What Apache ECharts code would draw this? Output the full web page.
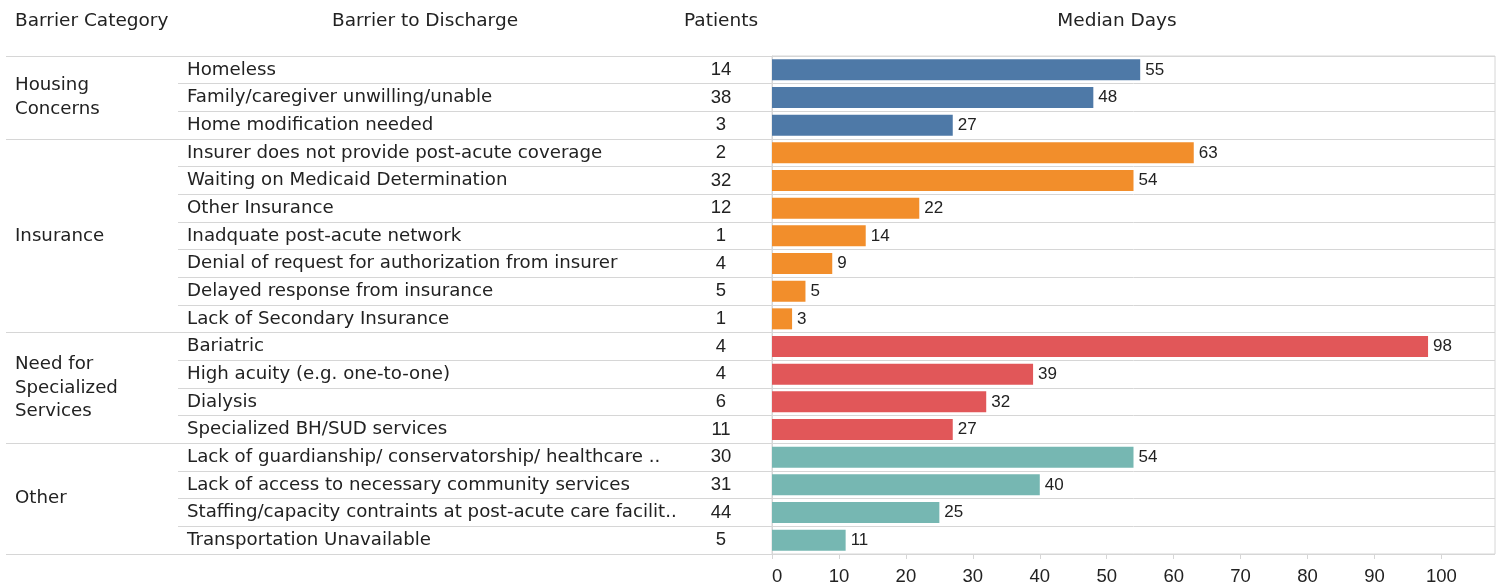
<!DOCTYPE html>
<html>
<head>
<meta charset="utf-8">
<script src="https://cdn.jsdelivr.net/npm/echarts@6/dist/echarts.min.js"></script>
<style>
  html, body { margin: 0; padding: 0; background: #fff; }
  #chart { width: 1499px; height: 586px; }
</style>
</head>
<body>
<div id="chart"></div>
<script>
// data
const groupNames = ["Housing Concerns", "Insurance", "Need for Specialized Services", "Other"];
const groupSizes = [3, 7, 4, 4];
const barriers = [
  "Homeless",
  "Family/caregiver unwilling/unable",
  "Home modification needed",
  "Insurer does not provide post-acute coverage",
  "Waiting on Medicaid Determination",
  "Other Insurance",
  "Inadquate post-acute network",
  "Denial of request for authorization from insurer",
  "Delayed response from insurance",
  "Lack of Secondary Insurance",
  "Bariatric",
  "High acuity (e.g. one-to-one)",
  "Dialysis",
  "Specialized BH/SUD services",
  "Lack of guardianship/ conservatorship/ healthcare ..",
  "Lack of access to necessary community services",
  "Staffing/capacity contraints at post-acute care facilit..",
  "Transportation Unavailable",
];
const patients = [14, 38, 3, 2, 32, 12, 1, 4, 5, 1, 4, 4, 6, 11, 30, 31, 44, 5];
const medianDays = [55, 48, 27, 63, 54, 22, 14, 9, 5, 3, 98, 39, 32, 27, 54, 40, 25, 11];
const dayTicks = [0, 10, 20, 30, 40, 50, 60, 70, 80, 90, 100];

// styles
const FONT = "DejaVu Sans";
const NUM_FONT = "Liberation Sans";
const TEXT = "#222";
const LINE = "#d6d6d6";
const groupColors = ["#4e79a7", "#f28e2b", "#e15759", "#76b7b2"];

// which group each row is in, and where the groups start / end
const rowGroup = [];
groupSizes.forEach((n, g) => { for (let i = 0; i < n; i++) rowGroup.push(g); });
const groupEdges = [0];
groupSizes.forEach((n) => groupEdges.push(groupEdges[groupEdges.length - 1] + n));
const groupMids = groupSizes.map((n, g) => groupEdges[g] + n / 2);

const TOP = 56;
const ROWS_H = 498;

const headerText = (text, x, align) => ({
  type: "text",
  x: x,
  y: 21,
  style: { text: text, fontFamily: FONT, fontSize: 18.5, fill: TEXT, align: align, verticalAlign: "middle" },
});

const option = {
  animation: false,
  textStyle: { fontFamily: FONT },
  graphic: [
    headerText("Barrier Category", 15, "left"),
    headerText("Barrier to Discharge", 425, "center"),
    headerText("Patients", 721, "center"),
    headerText("Median Days", 1117, "center"),
  ],
  grid: [
    { left: 6, right: 4, top: TOP, height: ROWS_H },        // group bands
    { left: 178, width: 594, top: TOP, height: ROWS_H },    // barrier names + patients
    { left: 772, right: 4, top: TOP, height: ROWS_H, show: true, borderColor: LINE, borderWidth: 1 }, // bars
  ],
  xAxis: [
    { gridIndex: 0, type: "value", min: 0, max: 1, show: false },
    { gridIndex: 1, type: "value", min: 0, max: 1, show: false },
    {
      gridIndex: 2,
      type: "value",
      min: 0,
      max: 108,
      axisLine: { show: false },
      splitLine: { show: false },
      axisTick: { show: true, customValues: dayTicks, length: 5, lineStyle: { color: LINE } },
      axisLabel: {
        customValues: dayTicks,
        alignMinLabel: "left",
        margin: 13,
        fontFamily: NUM_FONT,
        fontSize: 18.5,
        color: TEXT,
      },
    },
  ],
  yAxis: [
    {
      // barrier category column
      gridIndex: 0,
      type: "value",
      min: 0,
      max: barriers.length,
      inverse: true,
      axisLine: { show: false },
      axisTick: { show: false, customValues: groupEdges },
      splitLine: { show: true, lineStyle: { color: LINE, width: 1 } },
      axisLabel: {
        inside: true,
        margin: 9,
        align: "left",
        customValues: groupMids,
        formatter: (v) => groupNames[groupMids.indexOf(v)],
        width: 150,
        overflow: "break",
        lineHeight: 23.5,
        padding: [3, 0, 0, 0],
        fontSize: 18.2,
        color: TEXT,
      },
    },
    {
      // barrier to discharge column
      gridIndex: 1,
      type: "category",
      data: barriers,
      inverse: true,
      axisLine: { show: false },
      axisTick: { show: false },
      splitLine: { show: true, interval: 0, lineStyle: { color: LINE } },
      axisLabel: {
        inside: true,
        margin: 9,
        align: "left",
        interval: 0,
        padding: [3, 0, 0, 0],
        fontSize: 18.2,
        color: TEXT,
      },
    },
    {
      // patients column
      gridIndex: 1,
      type: "category",
      position: "right",
      data: patients.map(String),
      inverse: true,
      axisLine: { show: false },
      axisTick: { show: false },
      splitLine: { show: false },
      axisLabel: {
        inside: true,
        margin: 51,
        align: "center",
        interval: 0,
        padding: [3, 0, 0, 0],
        fontFamily: NUM_FONT,
        fontSize: 18.5,
        color: TEXT,
      },
    },
    {
      // bar pane
      gridIndex: 2,
      type: "category",
      data: barriers,
      inverse: true,
      axisLine: { show: true, lineStyle: { color: LINE } },
      axisTick: { show: false },
      axisLabel: { show: false },
      splitLine: { show: true, interval: 0, lineStyle: { color: LINE } },
    },
  ],
  series: [
    {
      type: "bar",
      xAxisIndex: 2,
      yAxisIndex: 3,
      barWidth: 21,
      data: medianDays.map((v, i) => ({ value: v, itemStyle: { color: groupColors[rowGroup[i]] } })),
      label: {
        show: true,
        position: "right",
        distance: 5,
        padding: [3, 0, 0, 0],
        fontFamily: NUM_FONT,
        fontSize: 17,
        color: TEXT,
      },
    },
  ],
};

const chart = echarts.init(document.getElementById("chart"));
chart.setOption(option);
</script>
</body>
</html>
